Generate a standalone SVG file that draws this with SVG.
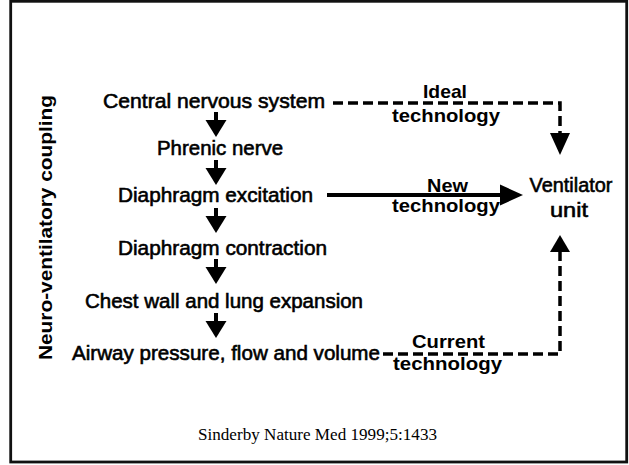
<svg xmlns="http://www.w3.org/2000/svg" xmlns:xlink="http://www.w3.org/1999/xlink" width="629" height="465" viewBox="0 0 629 465">
  <style>
    .node { font-family: "Liberation Sans", Arial, sans-serif; font-size: 20.5px; fill: #000; stroke: #000; stroke-width: 0.6; }
    .lab { font-family: "Liberation Sans", Arial, sans-serif; font-size: 19px; font-weight: bold; fill: #000; }
    .side { font-family: "Liberation Sans", Arial, sans-serif; font-size: 18.5px; font-weight: bold; fill: #000; }
    .cite { font-family: "Liberation Serif", "Times New Roman", serif; font-size: 17px; fill: #000; }
    .dash { fill: none; stroke: #000; stroke-width: 3.5; stroke-dasharray: 10 5; }
    .solid { fill: none; stroke: #000; stroke-width: 4; }
    .head { fill: #000; }
  </style>
  <defs>
    <g id="down">
      <rect x="-2" y="0" width="4" height="10" fill="#000"/>
      <polygon points="-10.5,8 10.5,8 0,25" fill="#000"/>
    </g>
  </defs>
  <rect x="0" y="0" width="629" height="465" fill="#fff"/>
  <rect x="10.7" y="1.3" width="616" height="460.7" fill="none" stroke="#111" stroke-width="2.8"/>

  <g id="side-label">
    <text class="side" transform="translate(52,227.5) rotate(-90)" text-anchor="middle" textLength="265" lengthAdjust="spacingAndGlyphs">Neuro-ventilatory coupling</text>
  </g>

  <g id="cns"><text class="node" x="103" y="108" textLength="222" lengthAdjust="spacingAndGlyphs">Central nervous system</text></g>
  <g id="phrenic"><text class="node" x="157" y="155" textLength="126" lengthAdjust="spacingAndGlyphs">Phrenic nerve</text></g>
  <g id="excitation"><text class="node" x="118" y="202" textLength="195" lengthAdjust="spacingAndGlyphs">Diaphragm excitation</text></g>
  <g id="contraction"><text class="node" x="118" y="255" textLength="209" lengthAdjust="spacingAndGlyphs">Diaphragm contraction</text></g>
  <g id="chest"><text class="node" x="85" y="308" textLength="278" lengthAdjust="spacingAndGlyphs">Chest wall and lung expansion</text></g>
  <g id="airway"><text class="node" x="72" y="360" textLength="308" lengthAdjust="spacingAndGlyphs">Airway pressure, flow and volume</text></g>
  <g id="ventilator">
    <text class="node" x="571" y="192" text-anchor="middle" textLength="83" lengthAdjust="spacingAndGlyphs">Ventilator</text>
    <text class="node" x="569" y="217" text-anchor="middle" textLength="38" lengthAdjust="spacingAndGlyphs">unit</text>
  </g>

  <g id="connectors">
    <use xlink:href="#down" href="#down" transform="translate(216,112)"/>
    <use xlink:href="#down" href="#down" transform="translate(216,160)"/>
    <use xlink:href="#down" href="#down" transform="translate(216,208)"/>
    <use xlink:href="#down" href="#down" transform="translate(216,259)"/>
    <use xlink:href="#down" href="#down" transform="translate(216,313)"/>

    <path class="dash" d="M333,103 H560 V133"/>
    <polygon class="head" points="550,133 570,133 560,155"/>

    <path class="solid" d="M327,195 H502"/>
    <polygon class="head" points="500,184.5 523,195 500,205.5"/>

    <path class="dash" d="M383,354 H560 V250"/>
    <polygon class="head" points="550,252 570,252 560,235"/>
  </g>

  <g id="labels">
    <text class="lab" x="423" y="98" textLength="44" lengthAdjust="spacingAndGlyphs">Ideal</text>
    <text class="lab" x="392" y="122" textLength="108" lengthAdjust="spacingAndGlyphs">technology</text>
    <text class="lab" x="427" y="192" textLength="41" lengthAdjust="spacingAndGlyphs">New</text>
    <text class="lab" x="392" y="212" textLength="108" lengthAdjust="spacingAndGlyphs">technology</text>
    <text class="lab" x="412" y="348" textLength="73" lengthAdjust="spacingAndGlyphs">Current</text>
    <text class="lab" x="393" y="370" textLength="109" lengthAdjust="spacingAndGlyphs">technology</text>
  </g>

  <g id="citation">
    <text class="cite" x="198" y="440" textLength="239" lengthAdjust="spacingAndGlyphs">Sinderby Nature Med 1999;5:1433</text>
  </g>
</svg>
